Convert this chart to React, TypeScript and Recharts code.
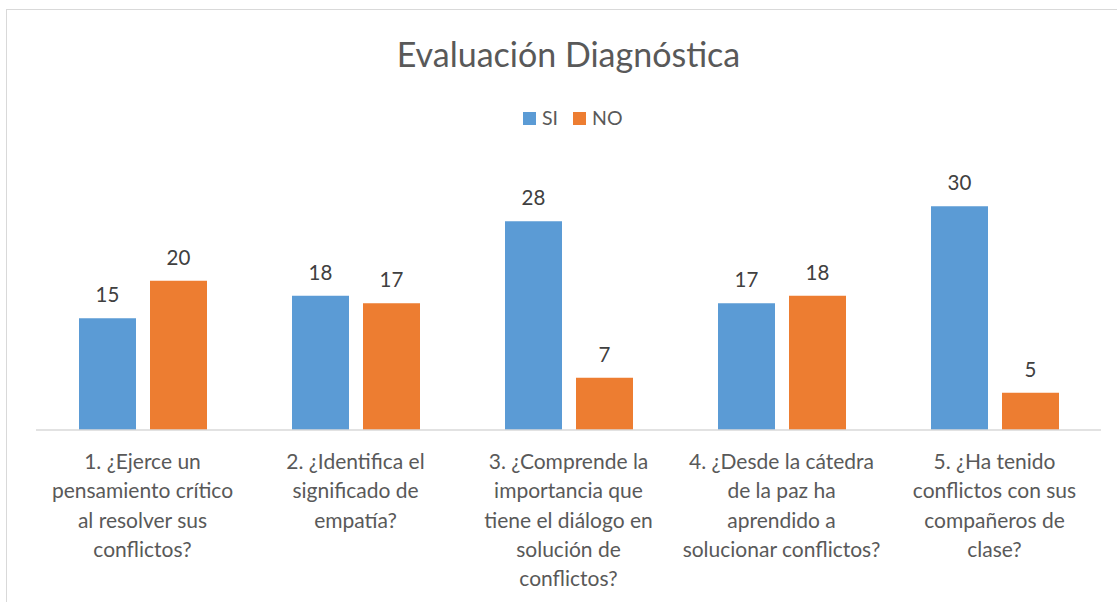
import React from "react";
import { BarChart, Bar, XAxis, YAxis, LabelList } from "recharts";

const categories = [
  "1. ¿Ejerce un\npensamiento crítico\nal resolver sus\nconflictos?",
  "2. ¿Identifica el\nsignificado de\nempatía?",
  "3. ¿Comprende la\nimportancia que\ntiene el diálogo en\nsolución de\nconflictos?",
  "4. ¿Desde la cátedra\nde la paz ha\naprendido a\nsolucionar conflictos?",
  "5. ¿Ha tenido\nconflictos con sus\ncompañeros de\nclase?",
];
const siValues = [15, 18, 28, 17, 30];
const noValues = [20, 17, 7, 18, 5];
const seriesNames = ["SI", "NO"];
const colors = ["#5B9BD5", "#ED7D31"];
const title = "Evaluación Diagnóstica";

const data = categories.map((c, i) => ({ cat: c, SI: siValues[i], NO: noValues[i] }));

const FONT = "Lato, 'Open Sans', sans-serif";

const Tick = (props: any) => {
  const { x, y, payload } = props;
  const lines = String(payload.value).split("\n");
  return (
    <text x={x} y={y} textAnchor="middle" fill="#595959" fontSize={21} fontFamily={FONT}>
      {lines.map((l, i) => (
        <tspan key={i} x={x} y={y + 31 + i * 29.3}>
          {l}
        </tspan>
      ))}
    </text>
  );
};

export default function App() {
  return (
    <div style={{ position: "absolute", left: 0, top: 0, width: 1117, height: 602, background: "#fff", overflow: "hidden" }}>
      <div
        style={{
          position: "absolute",
          left: 6,
          top: 9,
          width: 1200,
          height: 700,
          border: "1.5px solid #d9d9d9",
          boxSizing: "border-box",
        }}
      />
      <div
        style={{
          position: "absolute",
          left: 0,
          width: 1137,
          top: 33,
          textAlign: "center",
          fontFamily: FONT,
          fontSize: 34,
          color: "#595959",
          lineHeight: "42px",
        }}
      >
        {title}
      </div>
      <div
        style={{
          position: "absolute",
          left: 523,
          top: 106,
          display: "flex",
          alignItems: "center",
          fontFamily: FONT,
          fontSize: 19.5,
          color: "#595959",
          lineHeight: "24px",
        }}
      >
        {seriesNames.map((n, i) => (
          <div key={n} style={{ display: "flex", alignItems: "center", marginRight: 15 }}>
            <div style={{ width: 13, height: 13, background: colors[i], marginRight: 6 }} />
            <span>{n}</span>
          </div>
        ))}
      </div>
      <div style={{ position: "absolute", left: 0, top: 0 }}>
        <BarChart
          width={1117}
          height={602}
          data={data}
          margin={{ top: 169, right: 16, bottom: 0, left: 36 }}
          barSize={57}
          barGap={14}
        >
          <XAxis
            dataKey="cat"
            height={172}
            axisLine={{ stroke: "#d9d9d9", strokeWidth: 1.5 }}
            tickLine={false}
            tick={<Tick />}
            interval={0}
          />
          <YAxis hide domain={[0, 35]} />
          <Bar dataKey="SI" fill={colors[0]} isAnimationActive={false}>
            <LabelList dataKey="SI" position="top" offset={16} fill="#404040" fontSize={20.5} fontFamily={FONT} />
          </Bar>
          <Bar dataKey="NO" fill={colors[1]} isAnimationActive={false}>
            <LabelList dataKey="NO" position="top" offset={16} fill="#404040" fontSize={20.5} fontFamily={FONT} />
          </Bar>
        </BarChart>
      </div>
    </div>
  );
}
